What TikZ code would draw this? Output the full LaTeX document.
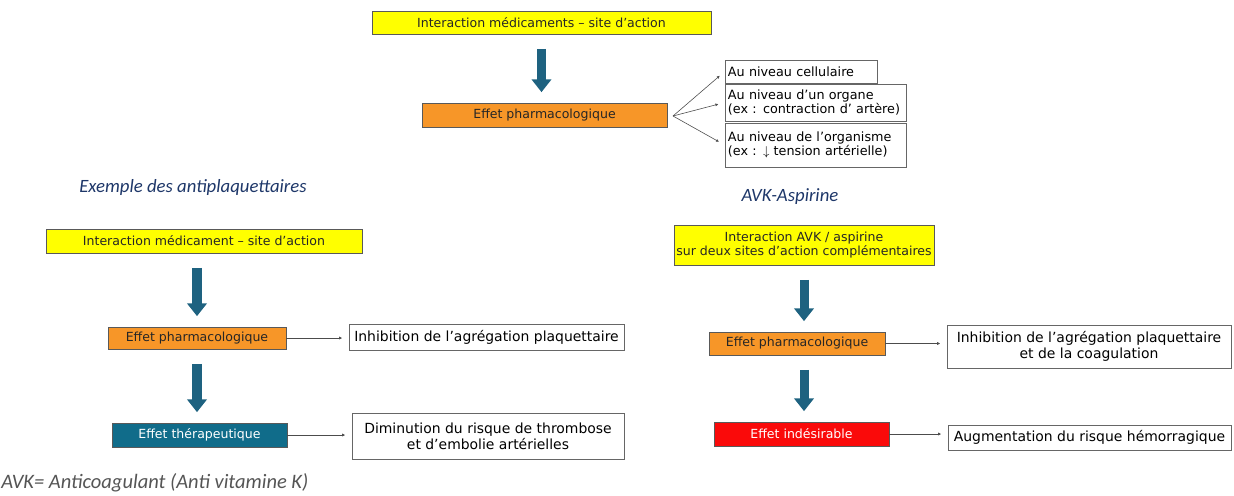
\documentclass[tikz,border=0pt]{standalone}
\usepackage{fontspec}
\setmainfont{DejaVu Sans}
\newfontfamily\notefont{Carlito}
\usetikzlibrary{arrows.meta}
\definecolor{boxyellow}{RGB}{255,255,0}
\definecolor{boxorange}{RGB}{247,150,40}
\definecolor{boxteal}{RGB}{16,108,138}
\definecolor{boxred}{RGB}{250,10,10}
\definecolor{arrowblue}{RGB}{30,98,128}
\definecolor{titleblue}{RGB}{30,55,105}
\definecolor{notegray}{RGB}{85,85,85}
\tikzset{
  sz/.style 2 args={minimum width=#1*0.03cm,minimum height=#2*0.03cm},
  basebox/.style={draw=black!65,line width=0.5pt,inner sep=1pt,align=center,
    font=\fontsize{10.7}{12}\selectfont},
  yellowbox/.style={basebox,fill=boxyellow,text=black!85},
  orangebox/.style={basebox,fill=boxorange,text=black!85},
  tealbox/.style={basebox,fill=boxteal,text=white},
  redbox/.style={basebox,fill=boxred,text=white},
  whitebox/.style={basebox,draw=black!60,fill=white},
  bigwhite/.style={whitebox,font=\fontsize{11.9}{14}\selectfont},
  listbox/.style={whitebox,align=left,text width=#1*0.03cm-5pt,inner sep=2.5pt,
    font=\fontsize{10.9}{12.6}\selectfont},
  bigarrow/.style={draw=arrowblue,line width=7.7pt,
    -{Triangle[width=16.5pt,length=11pt]},shorten <=12.5pt,shorten >=9pt},
  link/.style={draw=black!70,line width=0.5pt,-{Latex[length=2.6pt,width=2.6pt]},
    shorten >=5.5pt},
  caption/.style={font=\notefont\itshape\fontsize{16}{18}\selectfont,text=titleblue},
}
\begin{document}
\begin{tikzpicture}[x=0.03cm,y=-0.03cm]
\useasboundingbox (0,0) rectangle (1234,495);

% top part
\node[yellowbox,sz={339}{23}] (inter) at (541.5,22.5) {Interaction médicaments – site d’action};
\node[orangebox,sz={245}{24}] (effet) at (544.5,115) {Effet pharmacologique};
\node[listbox=152,sz={152}{23}] (niv1) at (801,71.5) {Au niveau cellulaire};
\node[listbox=181,sz={181}{37}] (niv2) at (815.5,102.5) {Au niveau d’un organe\\(ex : contraction d’ artère)};
\node[listbox=181,sz={181}{44}] (niv3) at (815.5,145) {Au niveau de l’organisme\\(ex : $\downarrow$ tension artérielle)};
\draw[bigarrow] (inter.south) -- (inter.south |- effet.north);
\coordinate (fork) at (673,116);
\draw[link] (fork) -- (niv1.west);
\draw[link] (fork) -- (niv2.west);
\draw[link] (fork) -- (niv3.west);

% antiplaquettaires
\node[caption] (extitle) at (193,187) {Exemple des antiplaquettaires};
\node[yellowbox,sz={316}{24}] (linter) at (204,241) {Interaction médicament – site d’action};
\node[orangebox,sz={178}{22}] (lpharm) at (197,338) {Effet pharmacologique};
\node[tealbox,sz={175}{24}] (lthera) at (199.5,435) {Effet thérapeutique};
\node[bigwhite,sz={275}{26}] (linhib) at (486.5,337) {Inhibition de l’agrégation plaquettaire};
\node[bigwhite,sz={272}{46}] (lrisk) at (488,436) {Diminution du risque de thrombose\\et d’embolie artérielles};
\draw[bigarrow] (lpharm.north |- linter.south) -- (lpharm.north);
\draw[bigarrow] (lpharm.south) -- (lpharm.south |- lthera.north);
\draw[link] (lpharm.east) -- (lpharm.east -| linhib.west);
\draw[link] (lthera.east) -- (lthera.east -| lrisk.west);

% AVK-aspirine
\node[caption] (avktitle) at (790,197) {AVK-Aspirine};
\node[yellowbox,sz={260}{40}] (rinter) at (804,245) {Interaction AVK / aspirine\\sur deux sites d’action complémentaires};
\node[orangebox,sz={176}{23}] (rpharm) at (797,343.5) {Effet pharmacologique};
\node[redbox,sz={175}{24}] (rindes) at (801.5,434) {Effet indésirable};
\node[bigwhite,sz={284}{43}] (rinhib) at (1089,346.5) {Inhibition de l’agrégation plaquettaire\\et de la coagulation};
\node[bigwhite,sz={283}{25}] (rrisk) at (1089.5,437.5) {Augmentation du risque hémorragique};
\draw[bigarrow] (rinter.south) -- (rinter.south |- rpharm.north);
\draw[bigarrow] (rinter.south |- rpharm.south) -- (rinter.south |- rindes.north);
\draw[link] (rpharm.east) -- (rpharm.east -| rinhib.west);
\draw[link] (rindes.east) -- (rindes.east -| rrisk.west);

\node[anchor=west,font=\notefont\itshape\fontsize{17.5}{20}\selectfont,text=notegray,inner sep=1pt] (note) at (0,483) {AVK= Anticoagulant (Anti vitamine K)};
\end{tikzpicture}
\end{document}
